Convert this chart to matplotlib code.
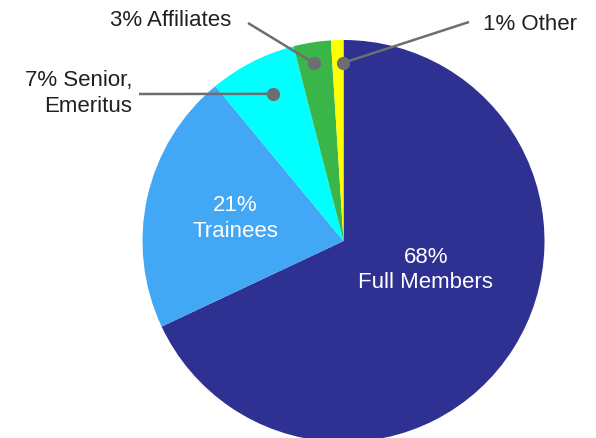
import numpy as np
import matplotlib
matplotlib.use("Agg")
import matplotlib.pyplot as plt

plt.rcParams['font.family'] = ['Liberation Sans', 'DejaVu Sans']

# membership shares (percent), clockwise from 12 o'clock
labels = ["Full Members", "Trainees", "Senior,\nEmeritus", "Affiliates", "Other"]
shares = [68, 21, 7, 3, 1]
colors = ["#2e3192", "#42a7f5", "#00ffff", "#39b54a", "#ffff00"]

W, H = 596, 438
cx, cy, R = 343.5, H - 241, 201

fig = plt.figure(figsize=(W / 100, H / 100), dpi=100)
ax = fig.add_axes([0, 0, 1, 1])
wedges, _ = ax.pie(shares, colors=colors, startangle=90, counterclock=False,
                   center=(cx, cy), radius=R, frame=True,
                   wedgeprops=dict(linewidth=0))
ax.set_xlim(0, W)
ax.set_ylim(0, H)
ax.set_aspect("equal")
ax.axis("off")

# labels inside the pie
ax.text(425.7, H - 270, f"{shares[0]}%\n{labels[0]}", color="white", fontsize=16,
        ha="center", va="center", linespacing=1.3)
ax.text(235, H - 218.5, f"{shares[1]}%\n{labels[1]}", color="white", fontsize=16,
        ha="center", va="center", linespacing=1.3)

# callouts: (wedge index, position along wedge, radius frac, text xy, line start, ha)
callouts = [
    (2, 0.44, 0.811, (132, 93.5), (139, 94), "right"),
    (3, 0.54, 0.897, (171, 20), (248, 23), "center"),
    (4, 0.04, 0.886, (530, 25), (469, 22), "center"),
]
gray = "#6d6e71"
for i, frac, rf, (tx, ty), (lx, ly), ha in callouts:
    w = wedges[i]
    ang = np.deg2rad(w.theta1 + (w.theta2 - w.theta1) * frac)
    dx = cx + rf * R * np.cos(ang)
    dy = cy + rf * R * np.sin(ang)
    ax.plot([lx, dx], [H - ly, dy], color=gray, lw=1.8, solid_capstyle="butt")
    ax.plot(dx, dy, "o", color=gray, ms=8.5)
    ax.text(tx, H - ty, f"{shares[i]}% {labels[i]}", fontsize=16,
            color="#231f20", ha=ha, va="center", multialignment=ha,
            linespacing=1.3)

fig.savefig("out.png", dpi=100)
